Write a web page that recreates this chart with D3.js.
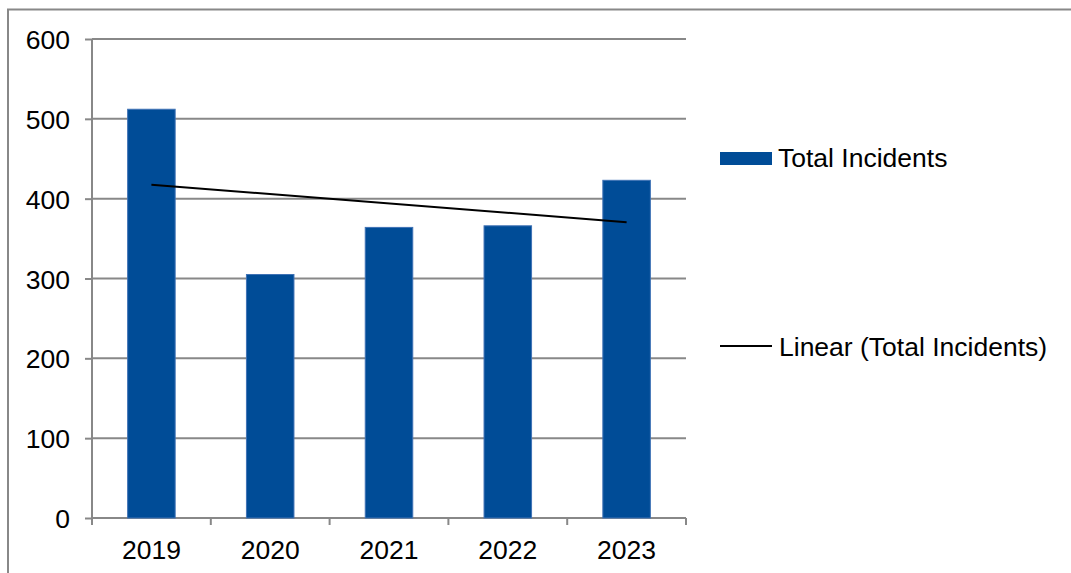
<!DOCTYPE html>
<html>
<head>
<meta charset="utf-8">
<script src="https://cdn.jsdelivr.net/npm/d3@7"></script>
<style>
  html, body { margin: 0; padding: 0; background: #fff; }
  svg { display: block; }
  text { font-family: "Liberation Sans", Arial, sans-serif; fill: #000; }
</style>
</head>
<body>
<svg id="chart" width="1071" height="573"></svg>
<script>
const categories = ["2019", "2020", "2021", "2022", "2023"];
const totalIncidents = [512, 305, 364, 366, 423];
const yTicks = [0, 100, 200, 300, 400, 500, 600];
const seriesName = "Total Incidents";
const trendName = "Linear (Total Incidents)";

const svg = d3.select("#chart");
const W = 1071, H = 573;
const plot = { left: 92, right: 686, top: 39, bottom: 518 };
const gridColor = "#888888";
const barColor = "#004c97";
const fontSize = 26.5;

// outer chart border (extends past right and bottom of the view)
svg.append("rect")
  .attr("x", 8).attr("y", 9.5)
  .attr("width", W + 20).attr("height", H + 20)
  .attr("fill", "none").attr("stroke", gridColor).attr("stroke-width", 2);

const x = d3.scaleBand().domain(categories)
  .range([plot.left, plot.right]).paddingInner(0.6).paddingOuter(0.3);
const y = d3.scaleLinear().domain([0, 600]).range([plot.bottom, plot.top]);

// gridlines
svg.append("g").selectAll("line").data(yTicks.filter(d => d > 0)).join("line")
  .attr("x1", plot.left).attr("x2", plot.right)
  .attr("y1", d => y(d)).attr("y2", d => y(d))
  .attr("stroke", gridColor).attr("stroke-width", 2);

// y axis
const yAxis = svg.append("g").attr("transform", `translate(${plot.left},0)`)
  .call(d3.axisLeft(y).tickValues(yTicks).tickSize(7).tickPadding(15).tickFormat(d3.format("d")));
yAxis.select(".domain").attr("stroke", gridColor).attr("stroke-width", 2)
  .attr("d", `M0,${plot.top}V${plot.bottom + 7}`);
yAxis.selectAll(".tick line").attr("stroke", gridColor).attr("stroke-width", 2);
yAxis.selectAll(".tick text").attr("font-size", fontSize).attr("fill", "#000")
  .attr("font-family", "Liberation Sans, Arial, sans-serif").attr("dy", "0.36em");

// x axis line and boundary ticks
const xAxisG = svg.append("g");
xAxisG.append("line")
  .attr("x1", plot.left).attr("x2", plot.right)
  .attr("y1", y(0)).attr("y2", y(0))
  .attr("stroke", gridColor).attr("stroke-width", 2);
const boundaries = categories.map(c => x(c) - x.step() * x.paddingOuter()).concat([plot.right]);
xAxisG.selectAll("line.tk").data(boundaries.slice(1)).join("line").attr("class", "tk")
  .attr("x1", d => d).attr("x2", d => d)
  .attr("y1", y(0)).attr("y2", y(0) + 7)
  .attr("stroke", gridColor).attr("stroke-width", 2);
xAxisG.selectAll("text").data(categories).join("text")
  .attr("x", d => x(d) + x.bandwidth() / 2)
  .attr("y", 559)
  .attr("text-anchor", "middle")
  .attr("font-size", fontSize)
  .text(d => d);

// bars
svg.append("g").selectAll("rect").data(categories).join("rect")
  .attr("x", d => x(d))
  .attr("width", x.bandwidth())
  .attr("y", (d, i) => y(totalIncidents[i]))
  .attr("height", (d, i) => y(0) - y(totalIncidents[i]))
  .attr("fill", barColor)
  .attr("stroke", "#3f72b5").attr("stroke-width", 1);

// linear trendline (least squares fit of the series)
const n = totalIncidents.length;
const xs = d3.range(n);
const mx = d3.mean(xs), my = d3.mean(totalIncidents);
const slope = d3.sum(xs, i => (i - mx) * (totalIncidents[i] - my)) / d3.sum(xs, i => (i - mx) ** 2);
const intercept = my - slope * mx;
const trendPts = [0, n - 1].map(i => [x(categories[i]) + x.bandwidth() / 2, y(intercept + slope * i)]);
svg.append("path")
  .attr("d", d3.line()(trendPts))
  .attr("fill", "none").attr("stroke", "#000").attr("stroke-width", 2);

// legend
const lg = svg.append("g");
lg.append("rect").attr("x", 720).attr("y", 152).attr("width", 52).attr("height", 13).attr("fill", barColor);
lg.append("text").attr("x", 778).attr("y", 167).attr("font-size", fontSize).text(seriesName);
lg.append("line").attr("x1", 720).attr("x2", 772).attr("y1", 346).attr("y2", 346)
  .attr("stroke", "#000").attr("stroke-width", 2);
lg.append("text").attr("x", 779).attr("y", 356).attr("font-size", fontSize).text(trendName);
</script>
</body>
</html>
